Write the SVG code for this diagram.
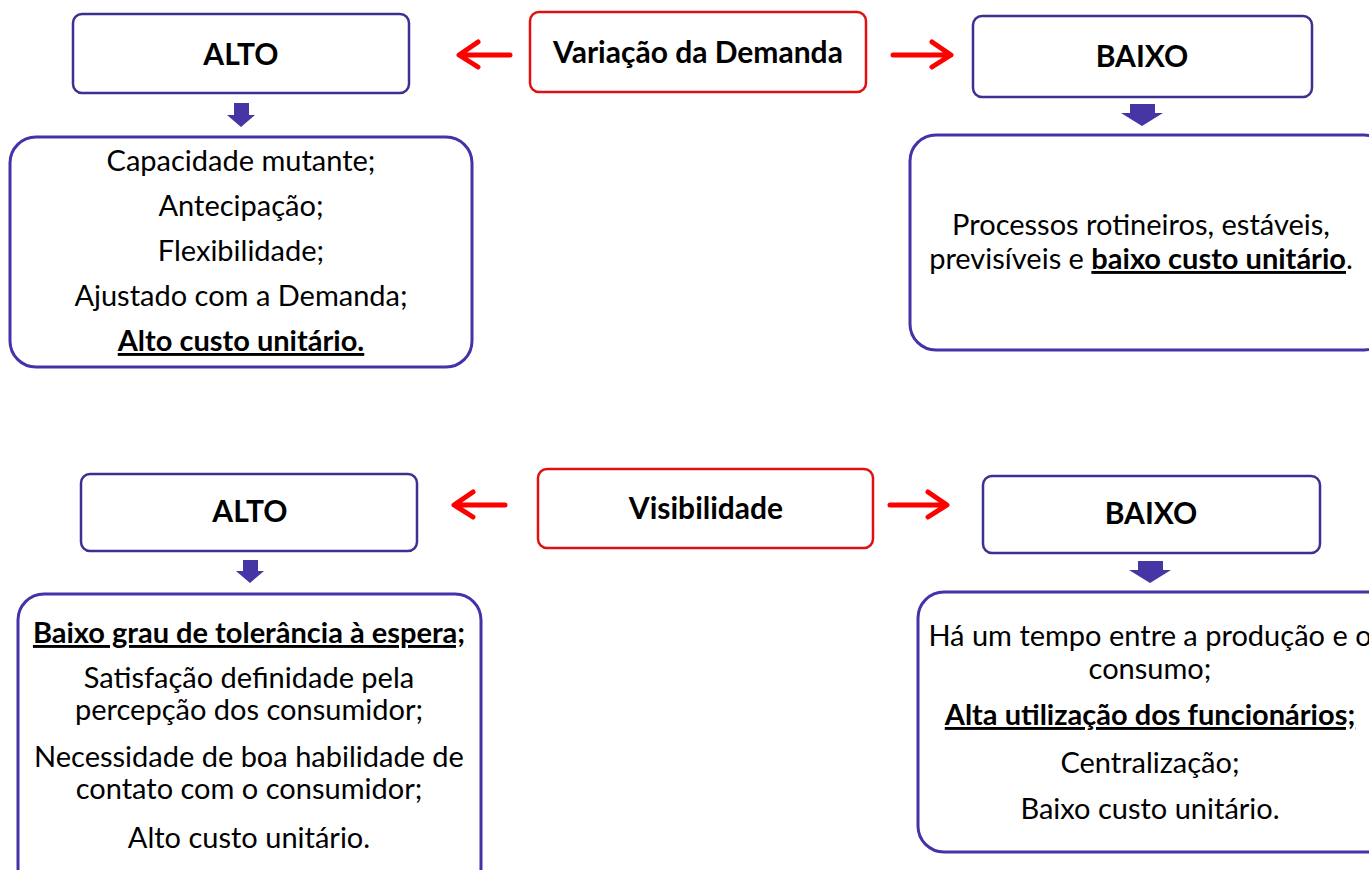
<svg xmlns="http://www.w3.org/2000/svg" width="1369" height="870" viewBox="0 0 1369 870">
<style>
.t{font-family:Lato,"Open Sans","Liberation Sans",sans-serif;font-size:29px;fill:#000;text-anchor:middle}
.b{font-weight:bold}
.h{font-size:30px}
.u{text-decoration:underline}
.hb{fill:#fff;stroke:#3a3190;stroke-width:2.5}
.rb{fill:#fff;stroke:#e01010;stroke-width:2.5}
.cb{fill:#fff;stroke:#4433a8;stroke-width:3}
.ra{fill:none;stroke:#ff0000;stroke-width:5;stroke-linecap:round;stroke-linejoin:round}
.ba{fill:#4535a5}
</style>
<rect width="1369" height="870" fill="#fff"/>
<g id="connectors">
<path class="ra" d="M510 55 H460 M478 42 L459 55 L478 67"/>
<path class="ra" d="M893 55 H948 M932 42 L951 55 L932 67"/>
<path class="ra" d="M505 505 H455 M473 492 L454 505 L473 517"/>
<path class="ra" d="M890 505 H944 M928 492 L947 505 L928 517"/>
<path class="ba" d="M234 103 H249 V115 H255 L241 127 L227 115 H234 Z"/>
<path class="ba" d="M1130 104 H1155 V113 H1163 L1142 126 L1121 113 H1130 Z"/>
<path class="ba" d="M243 560 H258 V571 H264 L250 583 L236 571 H243 Z"/>
<path class="ba" d="M1138 561 H1163 V570 H1171 L1150 583 L1129 570 H1138 Z"/>
</g>
<g id="alto1">
<rect class="hb" x="73" y="14" width="336" height="79" rx="9"/>
<text class="t b h" x="241" y="65">ALTO</text>
</g>
<g id="variacao">
<rect class="rb" x="530" y="12" width="336" height="80" rx="9"/>
<text class="t b h" x="698" y="63">Variação da Demanda</text>
</g>
<g id="baixo1">
<rect class="hb" x="973" y="16" width="339" height="81" rx="9"/>
<text class="t b h" x="1142" y="67">BAIXO</text>
</g>
<g id="alto1-detail">
<rect class="cb" x="10" y="137" width="462" height="230" rx="26"/>
<text class="t" x="241" y="171">Capacidade mutante;</text>
<text class="t" x="241" y="216">Antecipação;</text>
<text class="t" x="241" y="261">Flexibilidade;</text>
<text class="t" x="241" y="306">Ajustado com a Demanda;</text>
<text class="t b u" x="241" y="351">Alto custo unitário.</text>
</g>
<g id="baixo1-detail">
<rect class="cb" x="910" y="135" width="480" height="215" rx="26"/>
<text class="t" x="1141" y="235">Processos rotineiros, estáveis,</text>
<text class="t" x="1141" y="269">previsíveis e <tspan class="b u">baixo custo unitário</tspan>.</text>
</g>
<g id="alto2">
<rect class="hb" x="81" y="474" width="336" height="77" rx="9"/>
<text class="t b h" x="250" y="522">ALTO</text>
</g>
<g id="visibilidade">
<rect class="rb" x="538" y="469" width="335" height="79" rx="9"/>
<text class="t b h" x="706" y="519">Visibilidade</text>
</g>
<g id="baixo2">
<rect class="hb" x="983" y="476" width="337" height="77" rx="9"/>
<text class="t b h" x="1151" y="524">BAIXO</text>
</g>
<g id="alto2-detail">
<rect class="cb" x="18" y="594" width="463" height="300" rx="26"/>
<text class="t b u" x="249" y="643">Baixo grau de tolerância à espera;</text>
<text class="t" x="249" y="688">Satisfação definidade pela</text>
<text class="t" x="249" y="720">percepção dos consumidor;</text>
<text class="t" x="249" y="767">Necessidade de boa habilidade de</text>
<text class="t" x="249" y="799">contato com o consumidor;</text>
<text class="t" x="249" y="848">Alto custo unitário.</text>
</g>
<g id="baixo2-detail">
<rect class="cb" x="918" y="592" width="480" height="260" rx="26"/>
<text class="t" x="1150" y="646">Há um tempo entre a produção e o</text>
<text class="t" x="1150" y="679">consumo;</text>
<text class="t b u" x="1150" y="725">Alta utilização dos funcionários;</text>
<text class="t" x="1150" y="773">Centralização;</text>
<text class="t" x="1150" y="819">Baixo custo unitário.</text>
</g>
</svg>
